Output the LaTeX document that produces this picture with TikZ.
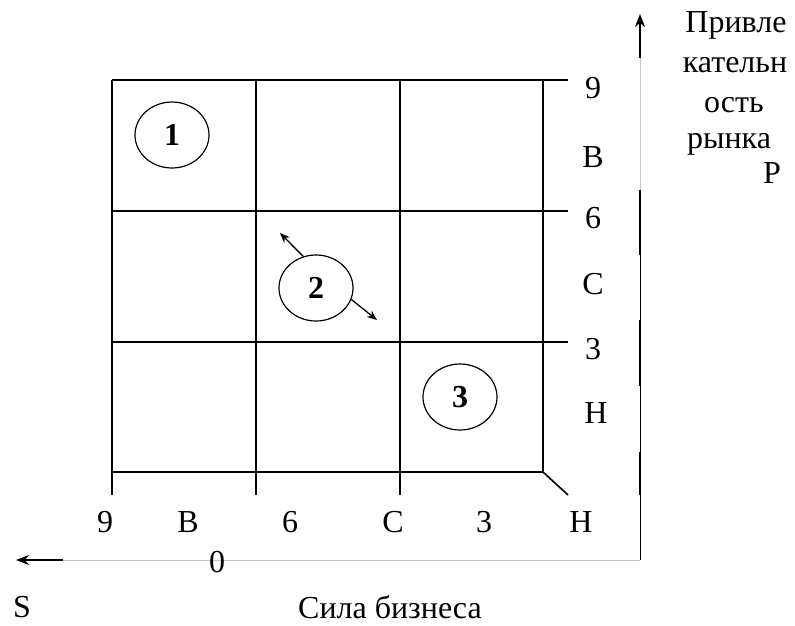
\documentclass[tikz,border=0pt]{standalone}
\usepackage{fontspec}
\setmainfont{Liberation Serif}
\usetikzlibrary{shapes.geometric,arrows.meta}
\begin{document}
\begin{tikzpicture}[x=1pt,y=-1pt,
  gridline/.style={line width=1.6pt},
  lbl/.style={font=\fontsize{32}{38}\selectfont, inner sep=0pt},
  oval/.style={ellipse, draw, line width=1.2pt, minimum width=74pt, minimum height=66pt, inner sep=0pt, font=\fontsize{32}{38}\selectfont\bfseries},
  movearrow/.style={-{Stealth[length=10pt,width=8pt]}, line width=1.3pt},
  axisarrow/.style={-{Stealth[length=13pt,width=10pt]}, line width=2pt},
  thinaxis/.style={gray!45, line width=0.7pt}
]
\useasboundingbox (0,0) rectangle (795,625);

% grid
\draw[gridline] (112,80) -- (568,80);
\draw[gridline] (112,211) -- (568,211);
\draw[gridline] (112,342) -- (568,342);
\draw[gridline] (112,472) -- (543,472);
\draw[gridline] (112,80) -- (112,495);
\draw[gridline] (256,80) -- (256,495);
\draw[gridline] (400,80) -- (400,495);
\draw[gridline] (543,80) -- (543,472) -- (568,495);

% ovals
\node[oval] (e1) at (172,135) {1};
\node[oval] (e2) at (316,288) {2};
\node[oval] (e3) at (460,397) {3};
\coordinate (e2a) at (280,233);
\coordinate (e2b) at (377,320);
\draw[movearrow] (e2.112) -- (e2a);
\draw[movearrow] (e2.-18) -- (e2b);

% vertical axis
\coordinate (vtop) at (640,14);
\coordinate (vs) at (640,58);
\coordinate (corner) at (640,560);
\draw[axisarrow] (vs) -- (vtop);
\draw[thinaxis] (vs) -- (640,190);
\draw[line width=1pt] (640,190) -- (corner);
\draw[line width=2.4pt] (640,190) -- (640,255);
\draw[line width=2.4pt] (640,320) -- (640,386);
\draw[line width=2.4pt] (640,452) -- (640,495);

% horizontal axis
\coordinate (hs) at (63,560);
\coordinate (hleft) at (16,560);
\draw[thinaxis] (corner) -- (hs);
\draw[axisarrow] (hs) -- (hleft);

% right labels
\node[lbl] (r9) at (593,88) {9};
\node[lbl] (rB) at (593,157) {В};
\node[lbl] (r6) at (593,218) {6};
\node[lbl] (rC) at (593,284) {С};
\node[lbl] (r3) at (593,349) {3};
\node[lbl] (rH) at (596,413) {Н};

% bottom labels
\node[lbl] (b9) at (105,522) {9};
\node[lbl] (bB) at (188,522) {В};
\node[lbl] (b6) at (290,522) {6};
\node[lbl] (bC) at (393,522) {С};
\node[lbl] (b3) at (484,522) {3};
\node[lbl] (bH) at (581,522) {Н};

\node[lbl] (zero) at (217,562) {0};
\node[lbl] (S) at (22,607) {S};
\node[lbl] (xtitle) at (390,607) {Сила бизнеса};

% vertical axis title
\node[lbl, anchor=base] (t1) at (736,32) {Привле};
\node[lbl, anchor=base] (t2) at (735,72) {кательн};
\node[lbl, anchor=base] (t3) at (734,112) {ость};
\node[lbl, anchor=base] (t4) at (729,148) {рынка};
\node[lbl, anchor=base] (t5) at (772,183) {Р};
\end{tikzpicture}
\end{document}
